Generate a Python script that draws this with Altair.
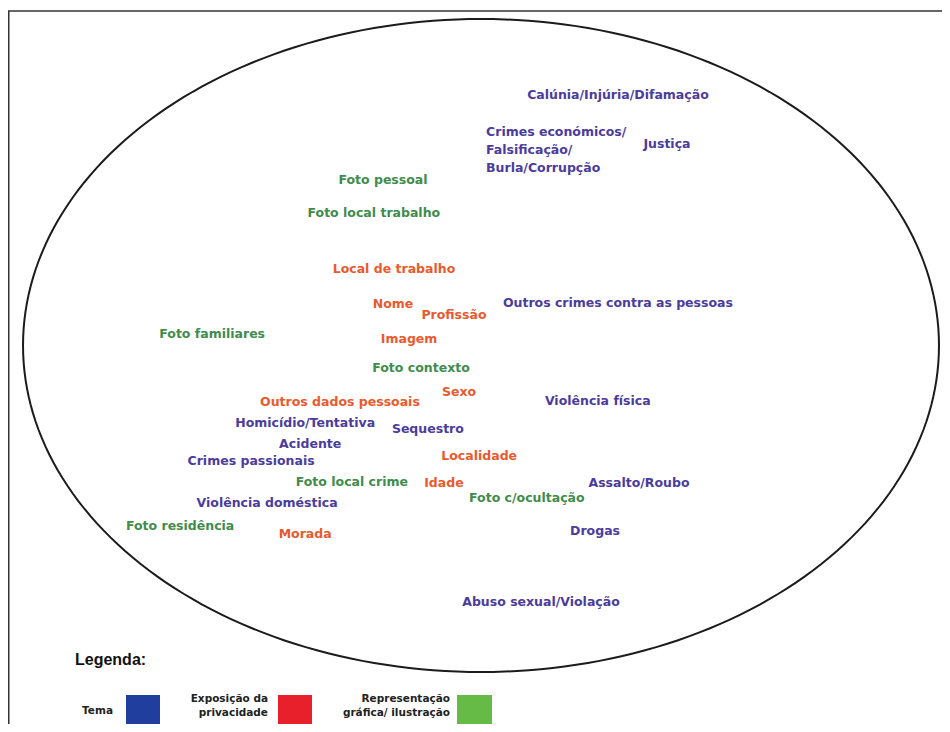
import altair as alt
import numpy as np
import pandas as pd

# ---- data: positions of each category on the two factorial dimensions ----
labels = [
    "Calúnia/Injúria/Difamação", "Justiça", "Foto pessoal", "Foto local trabalho",
    "Local de trabalho", "Nome", "Profissão", "Imagem", "Outros crimes contra as pessoas",
    "Foto familiares", "Foto contexto", "Sexo", "Outros dados pessoais", "Violência física",
    "Homicídio/Tentativa", "Sequestro", "Acidente", "Localidade", "Crimes passionais",
    "Foto local crime", "Idade", "Assalto/Roubo", "Foto c/ocultação", "Violência doméstica",
    "Foto residência", "Morada", "Drogas", "Abuso sexual/Violação",
]
dim1 = [0.299, 0.406, -0.214, -0.234, -0.190, -0.192, -0.059, -0.157, 0.299,
        -0.587, -0.131, -0.048, -0.308, 0.255, -0.384, -0.116, -0.373, -0.004,
        -0.502, -0.282, -0.081, 0.345, 0.100, -0.467, -0.657, -0.384, 0.249, 0.131]
dim2 = [0.767, 0.617, 0.507, 0.406, 0.235, 0.127, 0.093, 0.020, 0.130,
        0.034, -0.069, -0.142, -0.173, -0.170, -0.237, -0.256, -0.302, -0.338,
        -0.354, -0.418, -0.421, -0.421, -0.467, -0.482, -0.553, -0.577, -0.568, -0.786]
grupo = ["T", "T", "R", "R", "E", "E", "E", "E", "T",
         "R", "R", "E", "E", "T", "T", "T", "T", "E",
         "T", "R", "E", "T", "R", "T", "R", "E", "T", "T"]

# multi-line label (left aligned)
ml_label = ["Crimes económicos/\nFalsificação/\nBurla/Corrupção"]
ml_dim1 = [0.011]
ml_dim2 = [0.654]
ml_grupo = ["T"]

group_keys = ["T", "E", "R"]
text_colors = ["#4b3c9c", "#ea5a2e", "#3f8c4c"]

legend_names = ["Tema", "Exposição da\nprivacidade", "Representação\ngráfica/ ilustração"]
legend_fill = ["#1f3e9e", "#e8202c", "#66bb46"]

# ---- scales ----
xs = alt.Scale(domain=[-1.0328, 1.0066], nice=False, zero=False)
ys = alt.Scale(domain=[-1.1593, 1.0337], nice=False, zero=False)
cs = alt.Scale(domain=group_keys, range=text_colors)

df = pd.DataFrame({"label": labels, "d1": dim1, "d2": dim2, "g": grupo})
dfm = pd.DataFrame({"label": ml_label, "d1": ml_dim1, "d2": ml_dim2, "g": ml_grupo})

t = np.linspace(0, 2 * np.pi, 241)
ell = pd.DataFrame({"i": np.arange(len(t)), "d1": np.cos(t), "d2": np.sin(t)})

ellipse = alt.Chart(ell).mark_line(color="#1b1b1b", strokeWidth=2).encode(
    x=alt.X("d1:Q", scale=xs, axis=None),
    y=alt.Y("d2:Q", scale=ys, axis=None),
    order="i:Q",
)

FONT = "DejaVu Sans"
txt = alt.Chart(df).mark_text(font=FONT, fontWeight="bold", fontSize=12.5,
                              align="center", baseline="middle").encode(
    x=alt.X("d1:Q", scale=xs, axis=None),
    y=alt.Y("d2:Q", scale=ys, axis=None),
    text="label:N",
    color=alt.Color("g:N", scale=cs, legend=None),
)

txt_ml = alt.Chart(dfm).mark_text(font=FONT, fontWeight="bold", fontSize=12.5,
                                  align="left", baseline="middle", lineBreak="\n",
                                  lineHeight=18).encode(
    x=alt.X("d1:Q", scale=xs, axis=None),
    y=alt.Y("d2:Q", scale=ys, axis=None),
    text="label:N",
    color=alt.Color("g:N", scale=cs, legend=None),
)

# ---- legend (decoration, pixel positions) ----
leg_txt = pd.DataFrame({
    "name": legend_names,
    "px": [105, 260, 442],
    "py": [698, 686, 686],
})
leg_box = pd.DataFrame({
    "fill": legend_fill,
    "x0": [118, 270, 449], "x1": [152, 304, 484],
    "y0": [687, 687, 687], "y1": [722, 722, 722],
})

legend_title = alt.Chart(pd.DataFrame({"t": ["Legenda:"]})).mark_text(
    font="Liberation Sans", fontWeight="bold", fontSize=16, align="left",
    baseline="middle", color="#111").encode(
    x=alt.value(67), y=alt.value(652), text="t:N")

legend_text = alt.Chart(leg_txt).mark_text(
    font=FONT, fontWeight="bold", fontSize=10.5, align="right", baseline="top",
    lineBreak="\n", lineHeight=14, color="#222").encode(
    x=alt.X("px:Q", scale=None, axis=None),
    y=alt.Y("py:Q", scale=None, axis=None),
    text="name:N")

legend_rect = alt.Chart(leg_box).mark_rect().encode(
    x=alt.X("x0:Q", scale=None, axis=None), x2="x1:Q",
    y=alt.Y("y0:Q", scale=None, axis=None), y2="y1:Q",
    color=alt.Color("fill:N", scale=None),
)

frame_left = alt.Chart(pd.DataFrame({"a": [0]})).mark_rule(
    color="#333", strokeWidth=1.5).encode(
    x=alt.value(0.75), y=alt.value(3), y2=alt.value(716))
frame_top = alt.Chart(pd.DataFrame({"a": [0]})).mark_rule(
    color="#333", strokeWidth=1.5).encode(
    x=alt.value(0), x2=alt.value(934), y=alt.value(3))

chart = alt.layer(
    frame_left, frame_top, ellipse, txt, txt_ml, legend_title, legend_text, legend_rect
).resolve_scale(
    x="independent", y="independent", color="independent"
).properties(
    width=934, height=716,
    autosize=alt.AutoSizeParams(type="none"),
    padding=0,
    background="white",
).configure_view(stroke=None)

chart.save("out.html", embed_options={"renderer": "svg", "actions": False})
